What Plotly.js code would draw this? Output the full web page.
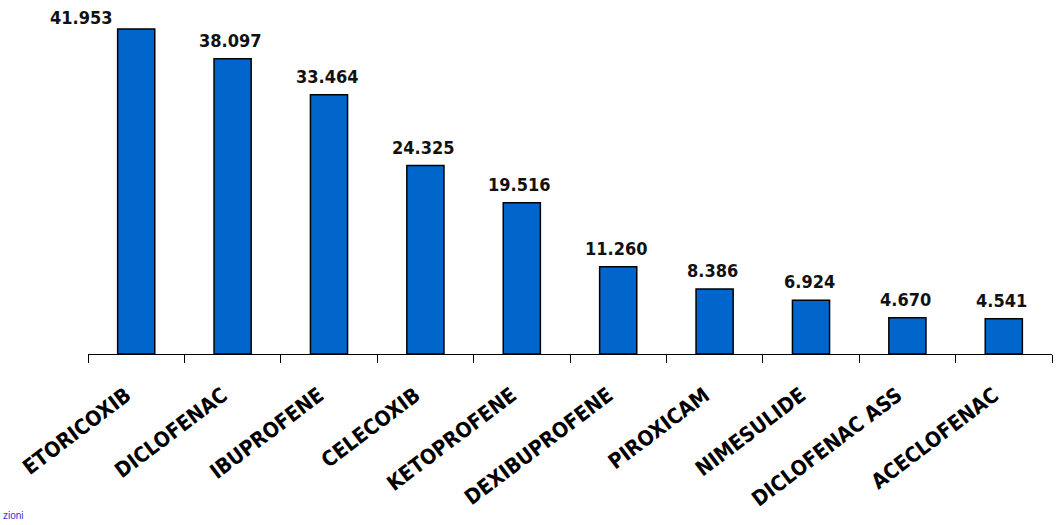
<!DOCTYPE html>
<html><head><meta charset="utf-8">
<script src="https://cdn.plot.ly/plotly-3.0.1.min.js"></script>
<style>body{margin:0;background:#fff}#chart{width:1057px;height:525px}</style>
</head><body><div id="chart"></div>
<script>
const categories = ["ETORICOXIB","DICLOFENAC","IBUPROFENE","CELECOXIB","KETOPROFENE","DEXIBUPROFENE","PIROXICAM","NIMESULIDE","DICLOFENAC ASS","ACECLOFENAC"];
const values = [41953, 38097, 33464, 24325, 19516, 11260, 8386, 6924, 4670, 4541];
const labels = ["41.953","38.097","33.464","24.325","19.516","11.260","8.386","6.924","4.670","4.541"];
const font = "'Liberation Sans Narrow','DejaVu Sans Condensed','DejaVu Sans',sans-serif";

const annotations = categories.map((c,i)=>({
  x:c, y:values[i], xref:'x', yref:'y', text:labels[i], showarrow:false,
  xanchor: i===0 ? 'right' : 'center', yanchor:'bottom',
  xshift: i===0 ? -21 : -2, yshift: i===0 ? -1 : 6,
  font:{family:font,size:18,color:'#111',weight:'bold',stretch:'condensed'}
}));
annotations.push({xref:'paper',yref:'paper',x:-0.0905,y:-0.49,xanchor:'left',yanchor:'bottom',
  text:'zioni',showarrow:false,font:{family:'Liberation Sans',size:10,color:'#3333cc'}});

Plotly.newPlot('chart',[{
  type:'bar', x:categories, y:values,
  marker:{color:'#0066CC', line:{color:'#000', width:1.5}},
  hoverinfo:'none'
}],{
  width:1057, height:525,
  margin:{l:88,r:5,t:10,b:171},
  paper_bgcolor:'#fff', plot_bgcolor:'#fff',
  bargap:0.615, showlegend:false,
  xaxis:{type:'category', range:[-0.5,9.5], tickangle:-37, tickson:'boundaries', ticks:'outside', ticklen:8, tickcolor:'#000', tickwidth:1,
    ticklabelstandoff:20, ticklabelshift:-10,
    showline:true, linecolor:'#000', linewidth:1, showgrid:false, zeroline:false,
    tickfont:{family:font,size:21,color:'#000',weight:'bold',stretch:'condensed'}},
  yaxis:{range:[0,44400], visible:false, showgrid:false, zeroline:false},
  annotations:annotations
},{displayModeBar:false,staticPlot:true});
</script></body></html>
